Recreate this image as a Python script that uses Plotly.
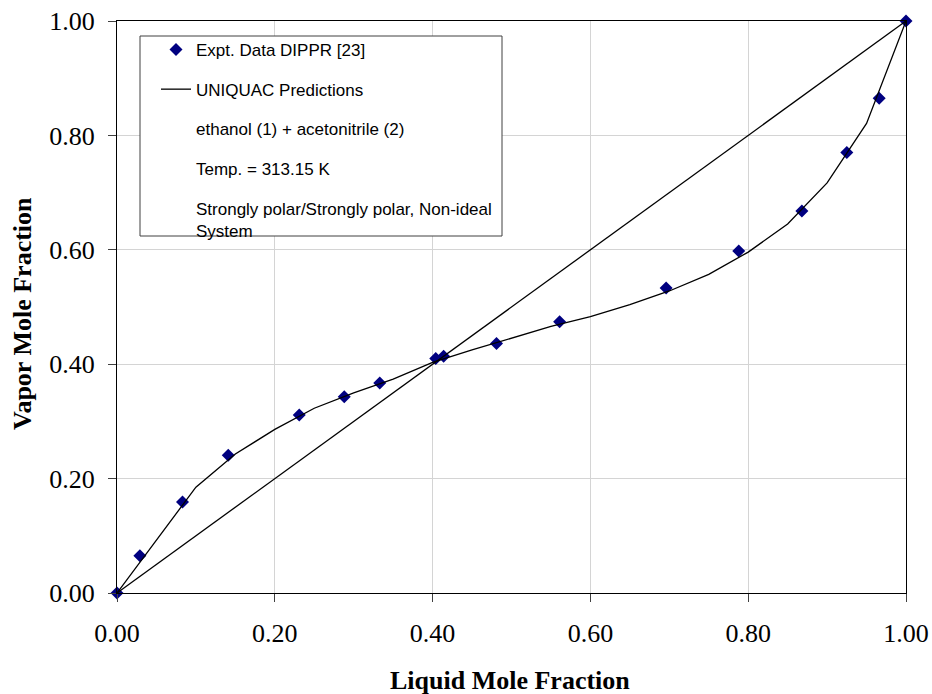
import plotly.graph_objects as go

# Experimental VLE data, ethanol (1) + acetonitrile (2) at 313.15 K
x_expt = [0.000, 0.029, 0.083, 0.141, 0.231, 0.288, 0.333, 0.404, 0.414,
          0.481, 0.561, 0.696, 0.788, 0.868, 0.925, 0.966, 1.000]
y_expt = [0.000, 0.065, 0.159, 0.241, 0.311, 0.343, 0.367, 0.410, 0.414,
          0.436, 0.474, 0.533, 0.598, 0.668, 0.770, 0.865, 1.000]

# UNIQUAC model curve
x_model = [0.00, 0.10, 0.15, 0.20, 0.25, 0.30, 0.35, 0.40, 0.45, 0.50,
           0.55, 0.60, 0.65, 0.70, 0.75, 0.80, 0.85, 0.90, 0.95, 1.00]
y_model = [0.000, 0.185, 0.243, 0.286, 0.323, 0.350, 0.374, 0.403, 0.425, 0.445,
           0.466, 0.483, 0.504, 0.528, 0.557, 0.596, 0.645, 0.717, 0.821, 1.000]

# x = y reference line
x_diag = [0.0, 1.0]
y_diag = [0.0, 1.0]

tick_vals = [0.0, 0.2, 0.4, 0.6, 0.8, 1.0]
tick_text = ["0.00", "0.20", "0.40", "0.60", "0.80", "1.00"]

legend_notes = [
    "ethanol (1) + acetonitrile (2)",
    "Temp. = 313.15 K",
    "Strongly polar/Strongly polar, Non-ideal<br>System",
]

W, H = 932, 694
ML, MR, MT, MB = 117, 26, 21, 101
PW, PH = W - ML - MR, H - MT - MB


def px_x(p):
    return (p - ML) / PW


def px_y(p):
    return (H - MB - p) / PH


fig = go.Figure()

fig.add_trace(go.Scatter(
    x=x_expt, y=y_expt, mode="markers", name="Expt. Data DIPPR [23]",
    marker=dict(symbol="diamond", size=10, color="#000080"),
    cliponaxis=False, legendgroup="a",
))
fig.add_trace(go.Scatter(
    x=x_model, y=y_model, mode="lines", name="UNIQUAC Predictions",
    line=dict(color="black", width=1.3), legendgroup="b",
))
fig.add_trace(go.Scatter(
    x=x_diag, y=y_diag, mode="lines", showlegend=False,
    line=dict(color="black", width=1.3),
))
for i, note in enumerate(legend_notes):
    fig.add_trace(go.Scatter(
        x=[None], y=[None], mode="markers", name=note,
        marker=dict(color="rgba(0,0,0,0)"), legendgroup=f"n{i}",
    ))

# legend frame
fig.add_shape(
    type="rect", xref="paper", yref="paper",
    x0=px_x(140), x1=px_x(502), y0=px_y(236), y1=px_y(36),
    line=dict(color="#404040", width=1), fillcolor="white", layer="above",
)

axis_common = dict(
    range=[0, 1], tickvals=tick_vals, ticktext=tick_text,
    showgrid=True, gridcolor="#d4d4d4", gridwidth=1,
    showline=True, linecolor="black", linewidth=1.3, mirror=True,
    ticks="outside", ticklen=8, tickcolor="#404040", tickwidth=1,
    zeroline=False, automargin=False,
    tickfont=dict(family="Liberation Serif", size=26, color="black"),
)

fig.update_xaxes(**axis_common, ticklabelstandoff=9)
fig.update_yaxes(**axis_common, ticklabelstandoff=8)

fig.add_annotation(
    text="<b>Liquid Mole Fraction</b>", xref="paper", yref="paper",
    x=px_x(510), y=px_y(680), showarrow=False, xanchor="center", yanchor="middle",
    font=dict(family="Liberation Serif", size=26, color="black"),
)
fig.add_annotation(
    text="<b>Vapor Mole Fraction</b>", xref="paper", yref="paper",
    x=px_x(22), y=px_y(314), showarrow=False, xanchor="center", yanchor="middle",
    textangle=-90,
    font=dict(family="Liberation Serif", size=26, color="black"),
)

fig.update_layout(
    width=W, height=H,
    margin=dict(l=ML, r=MR, t=MT, b=MB, pad=0, autoexpand=False),
    plot_bgcolor="white", paper_bgcolor="white",
    showlegend=True,
    legend=dict(
        x=px_x(156), y=px_y(32), xanchor="left", yanchor="top",
        bgcolor="rgba(0,0,0,0)", borderwidth=0,
        traceorder="grouped", tracegroupgap=14.5,
        font=dict(family="Liberation Sans", size=17, color="black"),
    ),
)

fig.write_html("out.html")
